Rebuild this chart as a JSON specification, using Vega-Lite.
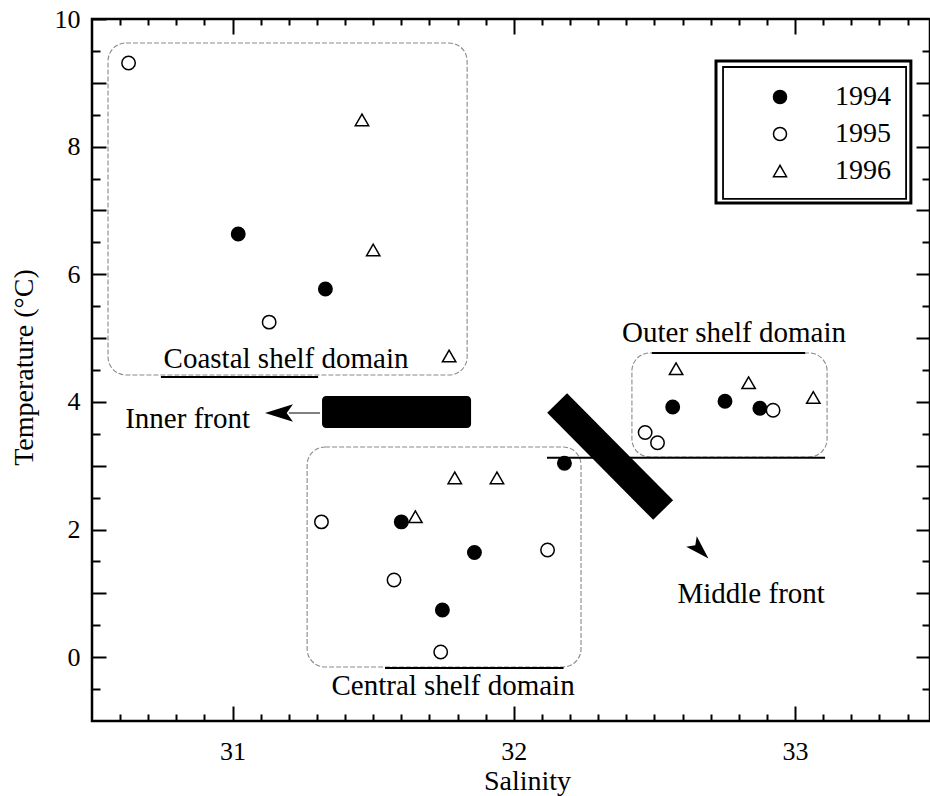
{
  "$schema": "https://vega.github.io/schema/vega-lite/v6.json",
  "width": 838,
  "height": 702,
  "autosize": {"type": "none"},
  "padding": {"left": 92, "top": 19, "right": 0, "bottom": 75},
  "background": "white",
  "config": {
    "view": {"stroke": "black", "strokeWidth": 2.5}
  },
  "datasets": {
    "points": [
      {"salinity": 31.02, "temp": 6.63, "year": "1994"},
      {"salinity": 31.33, "temp": 5.77, "year": "1994"},
      {"salinity": 31.60, "temp": 2.12, "year": "1994"},
      {"salinity": 31.86, "temp": 1.64, "year": "1994"},
      {"salinity": 31.746, "temp": 0.74, "year": "1994"},
      {"salinity": 32.18, "temp": 3.04, "year": "1994"},
      {"salinity": 32.565, "temp": 3.92, "year": "1994"},
      {"salinity": 32.751, "temp": 4.01, "year": "1994"},
      {"salinity": 32.875, "temp": 3.90, "year": "1994"},
      {"salinity": 30.63, "temp": 9.31, "year": "1995"},
      {"salinity": 31.13, "temp": 5.25, "year": "1995"},
      {"salinity": 31.316, "temp": 2.12, "year": "1995"},
      {"salinity": 31.574, "temp": 1.21, "year": "1995"},
      {"salinity": 31.74, "temp": 0.08, "year": "1995"},
      {"salinity": 32.12, "temp": 1.68, "year": "1995"},
      {"salinity": 32.467, "temp": 3.52, "year": "1995"},
      {"salinity": 32.511, "temp": 3.36, "year": "1995"},
      {"salinity": 32.922, "temp": 3.87, "year": "1995"},
      {"salinity": 31.46, "temp": 8.42, "year": "1996"},
      {"salinity": 31.50, "temp": 6.38, "year": "1996"},
      {"salinity": 31.77, "temp": 4.72, "year": "1996"},
      {"salinity": 31.65, "temp": 2.20, "year": "1996"},
      {"salinity": 31.79, "temp": 2.81, "year": "1996"},
      {"salinity": 31.94, "temp": 2.81, "year": "1996"},
      {"salinity": 32.577, "temp": 4.52, "year": "1996"},
      {"salinity": 32.835, "temp": 4.30, "year": "1996"},
      {"salinity": 33.065, "temp": 4.07, "year": "1996"}
    ],
    "boxes": [
      {"name": "Coastal", "x1": 30.557, "x2": 31.834, "y1": 9.624, "y2": 4.422},
      {"name": "Central", "x1": 31.265, "x2": 32.239, "y1": 3.294, "y2": -0.153},
      {"name": "Outer", "x1": 32.42, "x2": 33.114, "y1": 4.767, "y2": 3.137}
    ],
    "lines": [
      {"name": "Coastal underline", "x1": 30.745, "x2": 31.304, "y1": 4.39, "y2": 4.39},
      {"name": "Central bottom", "x1": 31.542, "x2": 32.177, "y1": -0.169, "y2": -0.169},
      {"name": "Middle line", "x1": 32.118, "x2": 33.107, "y1": 3.126, "y2": 3.126},
      {"name": "Outer top", "x1": 32.491, "x2": 33.036, "y1": 4.767, "y2": 4.767}
    ],
    "arrowline": [
      {"name": "Inner arrow", "x1": 31.2, "x2": 31.311, "y1": 3.826, "y2": 3.826}
    ],
    "innerfront": [
      {"name": "Inner front", "x1": 31.318, "x2": 31.848, "y1": 4.093, "y2": 3.591}
    ],
    "middlefront": [
      {"name": "Middle front", "x1": 32.154, "x2": 32.531, "y1": 3.983, "y2": 2.306}
    ],
    "innerhead": [{"x": 31.165, "y": 3.826}],
    "middlehead": [{"x": 32.662, "y": 1.68}],
    "labels": [
      {"text": "Coastal shelf domain", "x": 31.19, "y": 4.531},
      {"text": "Inner front", "x": 30.84, "y": 3.591},
      {"text": "Central shelf domain", "x": 31.784, "y": -0.592},
      {"text": "Outer shelf domain", "x": 32.783, "y": 4.939},
      {"text": "Middle front", "x": 32.844, "y": 0.849}
    ],
    "legendouter": [{"x1": 32.719, "x2": 33.412, "y1": 9.342, "y2": 7.117}],
    "legendinner": [{"x1": 32.744, "x2": 33.395, "y1": 9.248, "y2": 7.18}]
  },
  "layer": [
    {
      "data": {"name": "points"},
      "mark": {"type": "point", "filled": true, "stroke": "black", "strokeWidth": 1.5, "opacity": 1, "size": 180},
      "encoding": {
        "x": {"field": "salinity", "type": "quantitative", "scale": {"domain": [30.5, 33.48], "nice": false, "zero": false},
              "axis": {"orient": "bottom", "domain": false, "grid": false, "tickColor": "black", "tickWidth": 2,
                       "values": [30.6, 30.7, 30.8, 30.9, 31, 31.1, 31.2, 31.3, 31.4, 31.5, 31.6, 31.7, 31.8, 31.9, 32, 32.1, 32.2, 32.3, 32.4, 32.5, 32.6, 32.7, 32.8, 32.9, 33, 33.1, 33.2, 33.3, 33.4],
                       "tickSize": {"condition": {"test": "abs(datum.value - round(datum.value)) < 0.01", "value": -15}, "value": -7},
                       "labelExpr": "abs(datum.value - round(datum.value)) < 0.01 ? '' + round(datum.value) : ''",
                       "labelFont": "Liberation Serif", "labelFontSize": 26, "labelColor": "black", "labelPadding": 32, "labelOverlap": false,
                       "title": "Salinity", "titleFont": "Liberation Serif", "titleFontSize": 28, "titleFontWeight": "normal", "titleColor": "black",
                       "titleX": 435, "titleY": 68, "titleBaseline": "alphabetic", "titleAlign": "center"}},
        "y": {"field": "temp", "type": "quantitative", "scale": {"domain": [-1, 10], "nice": false, "zero": false},
              "axis": {"orient": "left", "domain": false, "grid": false, "tickColor": "black", "tickWidth": 2,
                       "values": [-0.5, 0, 0.5, 1, 1.5, 2, 2.5, 3, 3.5, 4, 4.5, 5, 5.5, 6, 6.5, 7, 7.5, 8, 8.5, 9, 9.5, 10],
                       "tickSize": {"condition": {"test": "abs(datum.value - round(datum.value)) < 0.01", "value": -14}, "value": -8},
                       "labelExpr": "abs(datum.value / 2 - round(datum.value / 2)) < 0.01 ? '' + round(datum.value) : ''",
                       "labelFont": "Liberation Serif", "labelFontSize": 26, "labelColor": "black", "labelPadding": 26, "labelOverlap": false,
                       "title": "Temperature (°C)", "titleFont": "Liberation Serif", "titleFontSize": 28, "titleFontWeight": "normal", "titleColor": "black",
                       "titleX": -60, "titleY": 348, "titleBaseline": "alphabetic", "titleAlign": "center", "titleAngle": -90}},
        "shape": {"field": "year", "type": "nominal",
                  "scale": {"domain": ["1994", "1995", "1996"], "range": ["circle", "circle", "triangle-up"]},
                  "legend": {"title": null, "orient": "none", "legendX": 674, "legendY": 64, "padding": 0, "labelFont": "Liberation Serif", "labelFontSize": 28, "labelColor": "black", "labelOffset": 41, "symbolSize": 170, "rowPadding": 9, "labelLimit": 200,
                             "encode": {"symbols": {"update": {"stroke": {"value": "black"}, "strokeWidth": {"value": 1.5}}}}}},
        "fill": {"field": "year", "type": "nominal",
                 "scale": {"domain": ["1994", "1995", "1996"], "range": ["black", "white", "white"]},
                 "legend": {"title": null, "orient": "none", "legendX": 674, "legendY": 64, "padding": 0, "labelFont": "Liberation Serif", "labelFontSize": 28, "labelColor": "black", "labelOffset": 41, "symbolSize": 170, "rowPadding": 9, "labelLimit": 200,
                            "encode": {"symbols": {"update": {"stroke": {"value": "black"}, "strokeWidth": {"value": 1.5}}}}}}
      }
    },
    {
      "data": {"name": "boxes"},
      "mark": {"type": "rect", "filled": false, "color": "#8a8a8a", "strokeWidth": 1.1, "strokeDash": [5, 2], "cornerRadius": 18},
      "encoding": {
        "x": {"field": "x1", "type": "quantitative", "axis": null},
        "x2": {"field": "x2"},
        "y": {"field": "y1", "type": "quantitative", "axis": null},
        "y2": {"field": "y2"}
      }
    },
    {
      "data": {"name": "lines"},
      "mark": {"type": "rule", "color": "black", "strokeWidth": 2},
      "encoding": {
        "x": {"field": "x1", "type": "quantitative", "axis": null},
        "x2": {"field": "x2"},
        "y": {"field": "y1", "type": "quantitative", "axis": null},
        "y2": {"field": "y2"}
      }
    },
    {
      "data": {"name": "arrowline"},
      "mark": {"type": "rule", "color": "black", "strokeWidth": 1},
      "encoding": {
        "x": {"field": "x1", "type": "quantitative", "axis": null},
        "x2": {"field": "x2"},
        "y": {"field": "y1", "type": "quantitative", "axis": null},
        "y2": {"field": "y2"}
      }
    },
    {
      "data": {"name": "innerfront"},
      "mark": {"type": "rect", "color": "black", "cornerRadius": 4},
      "encoding": {
        "x": {"field": "x1", "type": "quantitative", "axis": null},
        "x2": {"field": "x2"},
        "y": {"field": "y1", "type": "quantitative", "axis": null},
        "y2": {"field": "y2"}
      }
    },
    {
      "data": {"name": "middlefront"},
      "mark": {"type": "rule", "color": "black", "strokeWidth": 28, "strokeCap": "butt"},
      "encoding": {
        "x": {"field": "x1", "type": "quantitative", "axis": null},
        "x2": {"field": "x2"},
        "y": {"field": "y1", "type": "quantitative", "axis": null},
        "y2": {"field": "y2"}
      }
    },
    {
      "data": {"name": "innerhead"},
      "mark": {"type": "point", "filled": true, "color": "black", "opacity": 1, "shape": "M -1 0 L 1 -0.62 L 0.55 0 L 1 0.62 Z", "size": 784},
      "encoding": {
        "x": {"field": "x", "type": "quantitative", "axis": null},
        "y": {"field": "y", "type": "quantitative", "axis": null}
      }
    },
    {
      "data": {"name": "middlehead"},
      "mark": {"type": "point", "filled": true, "color": "black", "opacity": 1, "shape": "M -1 0 L 1 -0.62 L 0.55 0 L 1 0.62 Z", "size": 576, "angle": 225},
      "encoding": {
        "x": {"field": "x", "type": "quantitative", "axis": null},
        "y": {"field": "y", "type": "quantitative", "axis": null}
      }
    },
    {
      "data": {"name": "labels"},
      "mark": {"type": "text", "font": "Liberation Serif", "fontSize": 29, "color": "black", "align": "center", "baseline": "alphabetic"},
      "encoding": {
        "x": {"field": "x", "type": "quantitative",
              "axis": {"orient": "top", "labels": false, "title": null, "domain": false, "grid": false, "tickColor": "black",
                       "values": [30.6, 30.7, 30.8, 30.9, 31, 31.1, 31.2, 31.3, 31.4, 31.5, 31.6, 31.7, 31.8, 31.9, 32, 32.1, 32.2, 32.3, 32.4, 32.5, 32.6, 32.7, 32.8, 32.9, 33, 33.1, 33.2, 33.3, 33.4],
                       "tickWidth": 2,
                       "tickSize": {"condition": {"test": "abs(datum.value - round(datum.value)) < 0.01", "value": -15}, "value": -6}}},
        "y": {"field": "y", "type": "quantitative",
              "axis": {"orient": "right", "labels": false, "title": null, "domain": false, "grid": false, "tickColor": "black",
                       "values": [-0.5, 0, 0.5, 1, 1.5, 2, 2.5, 3, 3.5, 4, 4.5, 5, 5.5, 6, 6.5, 7, 7.5, 8, 8.5, 9, 9.5],
                       "tickWidth": 2,
                       "tickSize": {"condition": {"test": "abs(datum.value - round(datum.value)) < 0.01", "value": -14}, "value": -8}}},
        "text": {"field": "text", "type": "nominal"}
      }
    },
    {
      "data": {"name": "legendouter"},
      "mark": {"type": "rect", "filled": false, "color": "black", "strokeWidth": 3},
      "encoding": {
        "x": {"field": "x1", "type": "quantitative", "axis": null},
        "x2": {"field": "x2"},
        "y": {"field": "y1", "type": "quantitative", "axis": null},
        "y2": {"field": "y2"}
      }
    },
    {
      "data": {"name": "legendinner"},
      "mark": {"type": "rect", "filled": false, "color": "black", "strokeWidth": 1.8},
      "encoding": {
        "x": {"field": "x1", "type": "quantitative", "axis": null},
        "x2": {"field": "x2"},
        "y": {"field": "y1", "type": "quantitative", "axis": null},
        "y2": {"field": "y2"}
      }
    }
  ]
}
